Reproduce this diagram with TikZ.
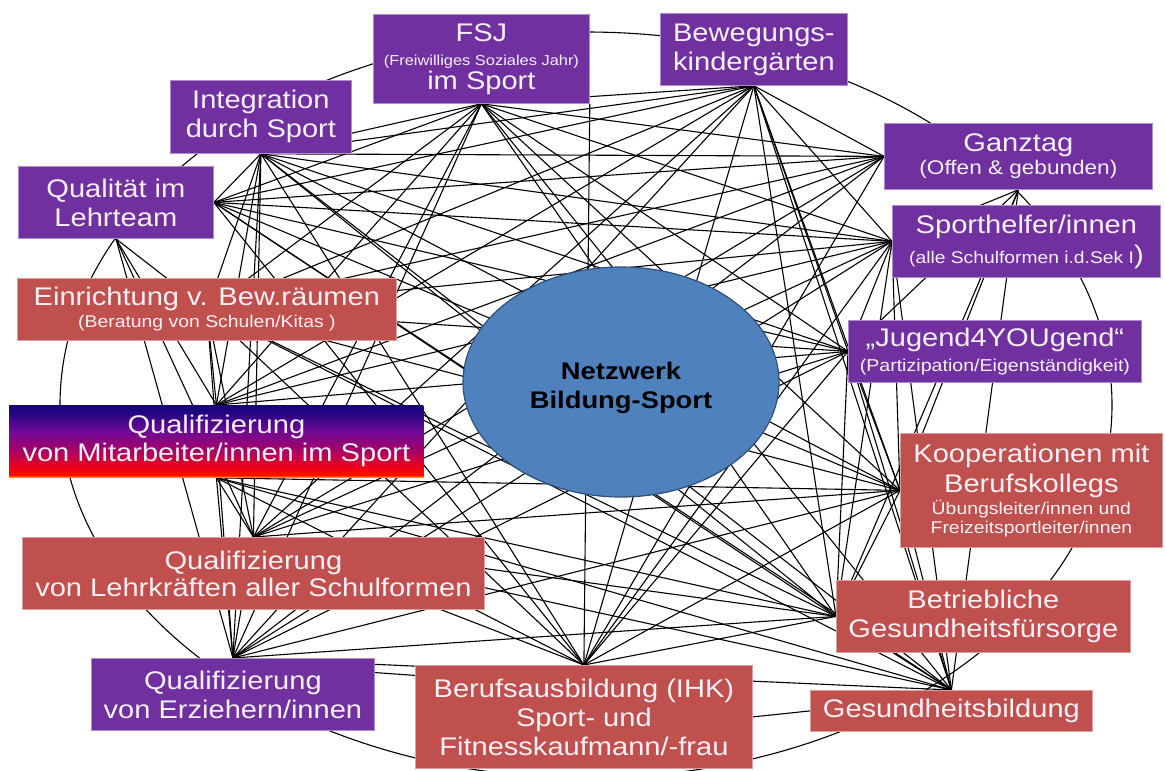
\documentclass[tikz,border=0pt]{standalone}
\usepackage{fontspec}
\setmainfont{Liberation Sans}[FakeStretch=1.14]
\usetikzlibrary{calc,shapes.geometric}
\pgfdeclarelayer{bg}
\pgfsetlayers{bg,main}
\definecolor{purp}{HTML}{7030A0}
\definecolor{redb}{HTML}{C0504D}
\definecolor{blueC}{HTML}{4F81BD}
\definecolor{blueD}{HTML}{2F4F7A}
\definecolor{txt}{HTML}{F6F0F6}
\definecolor{gOr}{RGB}{255,170,0}
\definecolor{gRed}{RGB}{255,10,0}
\definecolor{gRed2}{RGB}{235,0,30}
\definecolor{gMag}{RGB}{170,0,100}
\definecolor{gPur}{RGB}{110,10,150}
\definecolor{gNav}{RGB}{35,6,130}
\definecolor{gNav2}{RGB}{20,5,120}
\pgfdeclareverticalshading{mitshade}{100bp}{color(0bp)=(gOr); color(25bp)=(gOr); color(26.5bp)=(gRed); color(33bp)=(gRed2); color(43bp)=(gMag); color(57bp)=(gPur); color(70bp)=(gNav); color(75bp)=(gNav2); color(100bp)=(gNav2)}
\newcommand\fbig{\fontsize{25.5}{29}\selectfont}
\tikzset{
  box/.style={anchor=north west, inner sep=0pt, draw=#1!55!white, line width=0.8pt, fill=#1, text=txt, align=center, font=\fbig},
  link/.style={black, line width=1.1pt},
  ring/.style={black, line width=1.1pt},
}
\begin{document}
\begin{tikzpicture}[x=1pt,y=-1pt]
\useasboundingbox (0,0) rectangle (1165,771);
% boxes
\node[box=purp, minimum width=216pt, minimum height=89pt] (fsj) at (373,14)
  {FSJ\\[-5pt]{\fontsize{14.4}{16}\selectfont (Freiwilliges Soziales Jahr)}\\[-5pt]im Sport};
\node[box=purp, minimum width=187pt, minimum height=72pt] (bew) at (660,13)
  {Bewegungs-\\kindergärten};
\node[box=purp, minimum width=181pt, minimum height=73pt] (int) at (170,80)
  {Integration\\durch Sport};
\node[box=purp, minimum width=195pt, minimum height=72pt] (qua) at (18,166)
  {Qualität im\\Lehrteam};
\node[box=purp, minimum width=268pt, minimum height=66pt] (gan) at (884,123)
  {Ganztag\\[-6pt]{\fontsize{19.8}{22}\selectfont (Offen \& gebunden)}};
\node[box=purp, minimum width=268pt, minimum height=72pt] (spo) at (892,205)
  {Sporthelfer/innen\\[1pt]{\fontsize{16.9}{19}\selectfont (alle Schulformen i.d.Sek I}{\fontsize{25.5}{29}\selectfont )}};
\node[box=purp, minimum width=293pt, minimum height=62pt] (jug) at (848,320)
  {„Jugend4YOUgend“\\[-4pt]{\fontsize{17.2}{19}\selectfont (Partizipation/Eigenständigkeit)}};
\node[box=redb, minimum width=379pt, minimum height=62pt] (ein) at (17,278)
  {Einrichtung v. Bew.räumen\\[-7pt]{\fontsize{17}{19}\selectfont (Beratung von Schulen/Kitas )}};
\node[box=purp, draw=none, shading=mitshade, minimum width=414pt, minimum height=72pt] (mit) at (9,405)
  {Qualifizierung\\[-1pt]von Mitarbeiter/innen im Sport};
\node[box=redb, minimum width=262pt, minimum height=114pt] (koo) at (900,433)
  {Kooperationen mit\\[1pt]Berufskollegs\\[-7pt]{\fontsize{17}{19}\selectfont Übungsleiter/innen und}\\[-10pt]{\fontsize{17}{19}\selectfont Freizeitsportleiter/innen}};
\node[box=redb, minimum width=462pt, minimum height=72pt] (leh) at (22,537)
  {Qualifizierung\\[-2pt]von Lehrkräften aller Schulformen};
\node[box=redb, minimum width=294pt, minimum height=72pt] (bet) at (836,580)
  {Betriebliche\\Gesundheitsfürsorge};
\node[box=purp, minimum width=283pt, minimum height=72pt] (erz) at (91,658)
  {Qualifizierung\\von Erziehern/innen};
\node[box=redb, minimum width=337pt, minimum height=103pt] (ber) at (415,665)
  {Berufsausbildung (IHK)\\Sport- und\\Fitnesskaufmann/-frau};
\node[box=redb, minimum width=282pt, minimum height=41pt] (ges) at (810,690)
  {Gesundheitsbildung};
% centre
\node[ellipse, minimum width=316pt, minimum height=230pt, inner sep=0pt, fill=blueC, draw=blueD, line width=1.2pt] (net) at (621,382) {};
\node[font=\fontsize{24}{29}\selectfont\bfseries, align=center, text=black] (nettxt) at (621,388) {Netzwerk\\Bildung-Sport};
% connectors behind
\begin{pgfonlayer}{bg}
\fill[white] (0,0) rectangle (1165,771);
\draw[ring] (586,405) ellipse [x radius=526pt, y radius=373pt];
\foreach \a/\b in {
 fsj.south/bew.south, fsj.south/int.south, fsj.south/qua.east, fsj.south/gan.west,
 fsj.south/spo.west, fsj.south/jug.west, fsj.south/ein.center, fsj.south/mit.north,
 fsj.south/koo.west, fsj.south/leh.north, fsj.south/bet.west, fsj.south/erz.north,
 fsj.south east/ber.north, fsj.south/ges.north,
 bew.south/int.south, bew.south/qua.east, bew.south/gan.west, bew.south/spo.west,
 bew.south/jug.west, bew.south/ein.center, bew.south/mit.north, bew.south/koo.west,
 bew.south/leh.north, bew.south/bet.west, bew.south/erz.north, bew.south/ber.north,
 bew.south/ges.north,
 int.south/qua.east, int.south/gan.west, int.south/spo.west, int.south/jug.west,
 int.south/ein.center, int.south/mit.north, int.south/koo.west, int.south/leh.north,
 int.south/bet.west, int.south/erz.north, int.south/ber.north, int.south/ges.north,
 qua.east/gan.west, qua.east/spo.west, qua.east/jug.west, qua.south/ein.center,
 qua.south/mit.north, qua.east/koo.west, qua.south/leh.north, qua.east/bet.west,
 qua.south/erz.north, qua.east/ber.north, qua.east/ges.north,
 gan.south/spo.west, gan.south/jug.west, gan.west/ein.center, gan.west/mit.north,
 gan.south/koo.west, gan.west/leh.north, gan.south/bet.west, gan.west/erz.north,
 gan.west/ber.north, gan.south/ges.north,
 spo.west/jug.west, spo.west/ein.center, spo.west/mit.north, spo.west/koo.west,
 spo.west/leh.north, spo.west/bet.west, spo.west/erz.north, spo.west/ber.north,
 spo.west/ges.north,
 jug.west/ein.center, jug.west/mit.north, jug.west/koo.west, jug.west/leh.north,
 jug.west/bet.west, jug.west/erz.north, jug.west/ber.north, jug.west/ges.north,
 ein.center/mit.north, ein.center/koo.west, ein.center/leh.north, ein.center/bet.west,
 ein.center/erz.north, ein.center/ber.north, ein.center/ges.north,
 mit.south/koo.west, mit.south/leh.north, mit.south/bet.west, mit.south/erz.north,
 mit.south/ber.north, mit.south/ges.north,
 koo.west/leh.north, koo.west/bet.west, koo.west/erz.north, koo.west/ber.north,
 koo.west/ges.north,
 leh.north/bet.west, leh.north/erz.north, leh.north/ber.north, leh.north/ges.north,
 bet.west/erz.north, bet.west/ber.north, bet.west/ges.north,
 erz.north/ges.north}
 \draw[link] (\a) -- (\b);
\draw[link] ($(erz.north east)!0.2!(erz.south east)$) -- ($(ber.north west)!0.1!(ber.south west)$);
\draw[link] (ber.east) -- (ges.west);
\end{pgfonlayer}
\end{tikzpicture}
\end{document}
